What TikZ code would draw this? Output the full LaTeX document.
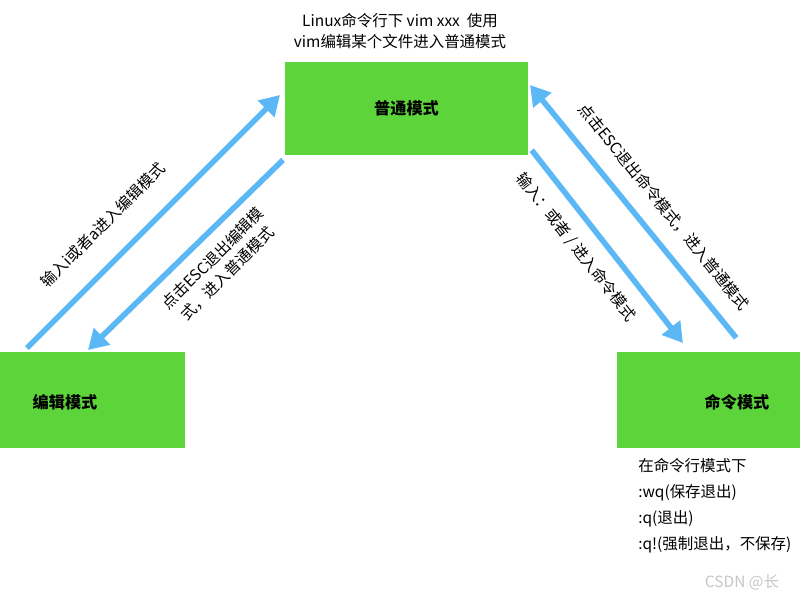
\documentclass[tikz,border=0pt]{standalone}
\usepackage{fontspec}
\setmainfont{Noto Sans CJK SC}
\usetikzlibrary{arrows.meta}
\definecolor{modegreen}{HTML}{5DD53A}
\definecolor{arrowblue}{HTML}{5BB8F5}
\begin{document}
\begin{tikzpicture}[x=0.025cm, y=-0.025cm,
    mode/.style = {rectangle, fill = modegreen, inner sep = 0pt},
    modetext/.style = {font = \fontsize{11.5}{13}\selectfont\bfseries},
    flow/.style = {draw = arrowblue, line width = 4pt,
      -{Triangle[length = 14pt, width = 16pt]}, shorten <= 2pt},
    note/.style = {font = \fontsize{11}{15}\selectfont, align = center, inner sep = 1pt}]
\useasboundingbox (0,0) rectangle (800,600);

% modes
\node[mode, minimum width = 243*0.025cm, minimum height = 93*0.025cm] (normal) at (406.5,108.5) {};
\node[modetext] (normallabel) at (406.5,108.5) {普通模式};
\node[mode, minimum width = 185*0.025cm, minimum height = 96*0.025cm] (edit) at (92.5,400) {};
\node[modetext] (editlabel) at (65,402) {编辑模式};
\node[mode, minimum width = 183*0.025cm, minimum height = 96*0.025cm] (command) at (708.5,400) {};
\node[modetext] (commandlabel) at (737,402) {命令模式};

% transitions
\coordinate (e1) at (25,350);   \coordinate (n1) at (280,95);
\coordinate (n2) at (285,158);  \coordinate (e2) at (88,350);
\coordinate (n3) at (530,148);  \coordinate (c1) at (683,343);
\coordinate (c2) at (738,340);  \coordinate (n4) at (530,85);
\draw[flow] (e1) -- (n1);
\draw[flow] (n2) -- (e2);
\draw[flow] (n3) -- (c1);
\draw[flow] (c2) -- (n4);

% labels
\node[note] (start) at (400,31) {Linux命令行下 vim xxx\ \ 使用\\vim编辑某个文件进入普通模式};
\node[note, rotate = 45] (toedit) at (103,225) {输入i或者a进入编辑模式};
\node[note, rotate = 45] (fromedit) at (220,266) {点击ESC退出编辑模\\式，进入普通模式};
\node[note, rotate = -52] (tocommand) at (576,247) {输入：或者 / 进入命令模式};
\node[note, rotate = -51] (fromcommand) at (664,207) {点击ESC退出命令模式，进入普通模式};
\node[font = \fontsize{11}{18.5}\selectfont, align = left, anchor = north west, inner sep = 0pt] (quit) at (638,458)
  {在命令行模式下\\:wq(保存退出)\\:q(退出)\\:q!(强制退出，不保存)};
\node[font = \fontsize{11}{13}\selectfont, text = gray!45, anchor = west] (mark) at (700,582) {CSDN @长};
\end{tikzpicture}
\end{document}
